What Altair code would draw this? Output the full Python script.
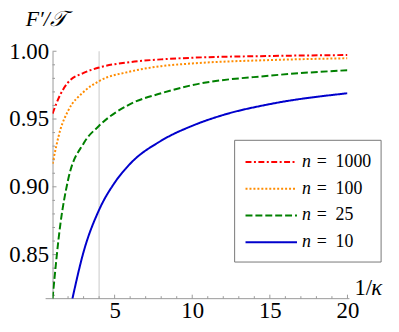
import altair as alt
import pandas as pd

# ---- data ----
series = ["n = 1000", "n = 100", "n = 25", "n = 10"]
legend_num = ["1000", "100", "25", "10"]
colors = ["#FF0000", "#FF8C00", "#008000", "#0000CC"]
dashes = [[6, 2.5, 2, 2.5], [2, 2], [7, 3], [1, 0]]

x_n1000 = [1, 1.5, 2, 3, 4, 6, 8, 10, 15, 20]
y_n1000 = [0.954, 0.968, 0.977, 0.984, 0.988, 0.992, 0.994, 0.9952, 0.9965, 0.9972]

x_n100 = [1, 1.5, 2, 3, 4, 6, 8, 10, 15, 20]
y_n100 = [0.917, 0.942, 0.956, 0.970, 0.978, 0.985, 0.989, 0.991, 0.9935, 0.9948]

x_n25 = [1, 1.5, 2, 3, 4, 6, 8, 10, 15, 20]
y_n25 = [0.8175, 0.872, 0.905, 0.932, 0.945, 0.961, 0.969, 0.975, 0.982, 0.986]

x_n10 = [2.28, 3, 4, 5, 6, 8, 10, 12, 15, 20]
y_n10 = [0.8175, 0.852, 0.883, 0.903, 0.917, 0.934, 0.945, 0.953, 0.961, 0.969]

vline_x = [4]
x_major = [5, 10, 15, 20]
x_minor = [2, 3, 4, 6, 7, 8, 9, 11, 12, 13, 14, 16, 17, 18, 19]
y_major = [0.85, 0.90, 0.95, 1.00]
y_minor = [0.82, 0.83, 0.84, 0.86, 0.87, 0.88, 0.89, 0.91, 0.92, 0.93, 0.94,
           0.96, 0.97, 0.98, 0.99]

W, H = 298, 250
FONT = "Liberation Serif"

rows = []
for name, xs, ys in [(series[0], x_n1000, y_n1000), (series[1], x_n100, y_n100),
                     (series[2], x_n25, y_n25), (series[3], x_n10, y_n10)]:
    for i, (a, b) in enumerate(zip(xs, ys)):
        rows.append({"s": name, "x": a, "y": b, "o": i})
df = pd.DataFrame(rows)
leg_df = pd.DataFrame({"s": series, "num": legend_num, "n": ["n"] * 4, "eq": ["="] * 4})

GRAY = "#999999"
xscale = alt.Scale(domain=[1, 20], nice=False, zero=False)
yscale = alt.Scale(domain=[0.8175, 1.0], nice=False, zero=False)
cscale = alt.Scale(domain=series, range=colors)
dscale = alt.Scale(domain=series, range=dashes)
legy = alt.Scale(type="point", domain=series, range=[112, 193], padding=0)

xaxis = alt.Axis(title=None, values=x_major, domain=False, ticks=False, grid=False,
                 labelFont=FONT, labelFontSize=23, labelColor="black",
                 labelPadding=1, labelFlush=False)
yaxis = alt.Axis(title=None, values=y_major, format=".2f", domain=True,
                 domainColor=GRAY, ticks=False, grid=False,
                 labelFont=FONT, labelFontSize=23, labelColor="black", labelPadding=4)

vline = alt.Chart(pd.DataFrame({"v": vline_x})).mark_rule(
    color="#c8c8c8", strokeWidth=1
).encode(x=alt.X("v:Q", scale=xscale, axis=xaxis))

lines = alt.Chart(df).mark_line(strokeWidth=2, clip=True, interpolate="monotone").encode(
    x=alt.X("x:Q", scale=xscale, axis=xaxis),
    y=alt.Y("y:Q", scale=yscale, axis=yaxis),
    color=alt.Color("s:N", scale=cscale, legend=None),
    strokeDash=alt.StrokeDash("s:N", scale=dscale, legend=None),
    order="o:Q",
)

xaxis_line = alt.Chart(pd.DataFrame({"a": [0]})).mark_rule(color=GRAY, strokeWidth=1).encode(
    x=alt.value(-7), x2=alt.value(W + 2), y=alt.value(H)
)

xt_major = alt.Chart(pd.DataFrame({"t": x_major})).mark_rule(color=GRAY).encode(
    x=alt.X("t:Q", scale=xscale, axis=xaxis), y=alt.value(H), y2=alt.value(H - 4)
)
xt_minor = alt.Chart(pd.DataFrame({"t": x_minor})).mark_rule(color=GRAY).encode(
    x=alt.X("t:Q", scale=xscale, axis=xaxis), y=alt.value(H), y2=alt.value(H - 2.5)
)
yt_major = alt.Chart(pd.DataFrame({"t": y_major})).mark_rule(color=GRAY).encode(
    y=alt.Y("t:Q", scale=yscale, axis=None), x=alt.value(0), x2=alt.value(4)
)
yt_minor = alt.Chart(pd.DataFrame({"t": y_minor})).mark_rule(color=GRAY).encode(
    y=alt.Y("t:Q", scale=yscale, axis=None), x=alt.value(0), x2=alt.value(2.5)
)

ytitle = alt.Chart(pd.DataFrame({"t": ["F\u2032/\U0001D4AF"]})).mark_text(
    font=FONT, fontSize=22, fontStyle="italic", align="left", baseline="middle", color="black"
).encode(text="t:N", x=alt.value(-27), y=alt.value(-33))

xtitle1 = alt.Chart(pd.DataFrame({"t": ["1/"]})).mark_text(
    font=FONT, fontSize=23, align="left", baseline="middle", color="black"
).encode(text="t:N", x=alt.value(W + 7), y=alt.value(H - 11))
xtitle2 = alt.Chart(pd.DataFrame({"t": ["\u03BA"]})).mark_text(
    font=FONT, fontSize=23, fontStyle="italic", align="left", baseline="middle", color="black"
).encode(text="t:N", x=alt.value(W + 24), y=alt.value(H - 11))

# ---- legend (drawn in-plot, like the reference) ----
leg_box = alt.Chart(pd.DataFrame({"a": [0]})).mark_rect(
    fill="white", stroke="#777777", strokeWidth=1
).encode(x=alt.value(184), x2=alt.value(332), y=alt.value(90), y2=alt.value(213))

leg_lines = alt.Chart(leg_df).mark_rule(strokeWidth=2).encode(
    y=alt.Y("s:N", scale=legy, axis=None),
    x=alt.value(195), x2=alt.value(247),
    color=alt.Color("s:N", scale=cscale, legend=None),
    strokeDash=alt.StrokeDash("s:N", scale=dscale, legend=None),
)
leg_n = alt.Chart(leg_df).mark_text(
    font=FONT, fontSize=18, fontStyle="italic", align="left", baseline="middle", color="black"
).encode(y=alt.Y("s:N", scale=legy, axis=None), x=alt.value(252), text="n:N")
leg_eq = alt.Chart(leg_df).mark_text(
    font=FONT, fontSize=18, align="left", baseline="middle", color="black"
).encode(y=alt.Y("s:N", scale=legy, axis=None), x=alt.value(267), text="eq:N")
leg_num = alt.Chart(leg_df).mark_text(
    font=FONT, fontSize=18, align="left", baseline="middle", color="black"
).encode(y=alt.Y("s:N", scale=legy, axis=None), x=alt.value(286), text="num:N")

chart = alt.layer(
    vline, xaxis_line, xt_major, xt_minor, yt_major, yt_minor, lines, ytitle,
    xtitle1, xtitle2, leg_box, leg_lines, leg_n, leg_eq, leg_num
).resolve_scale(y="independent").properties(
    width=W, height=H,
    autosize=alt.AutoSizeParams(type="none"),
    padding={"left": 45, "top": 42, "right": 44, "bottom": 32},
).configure_view(stroke=None)

chart.save("out.html", embed_options={"renderer": "svg", "actions": False})
